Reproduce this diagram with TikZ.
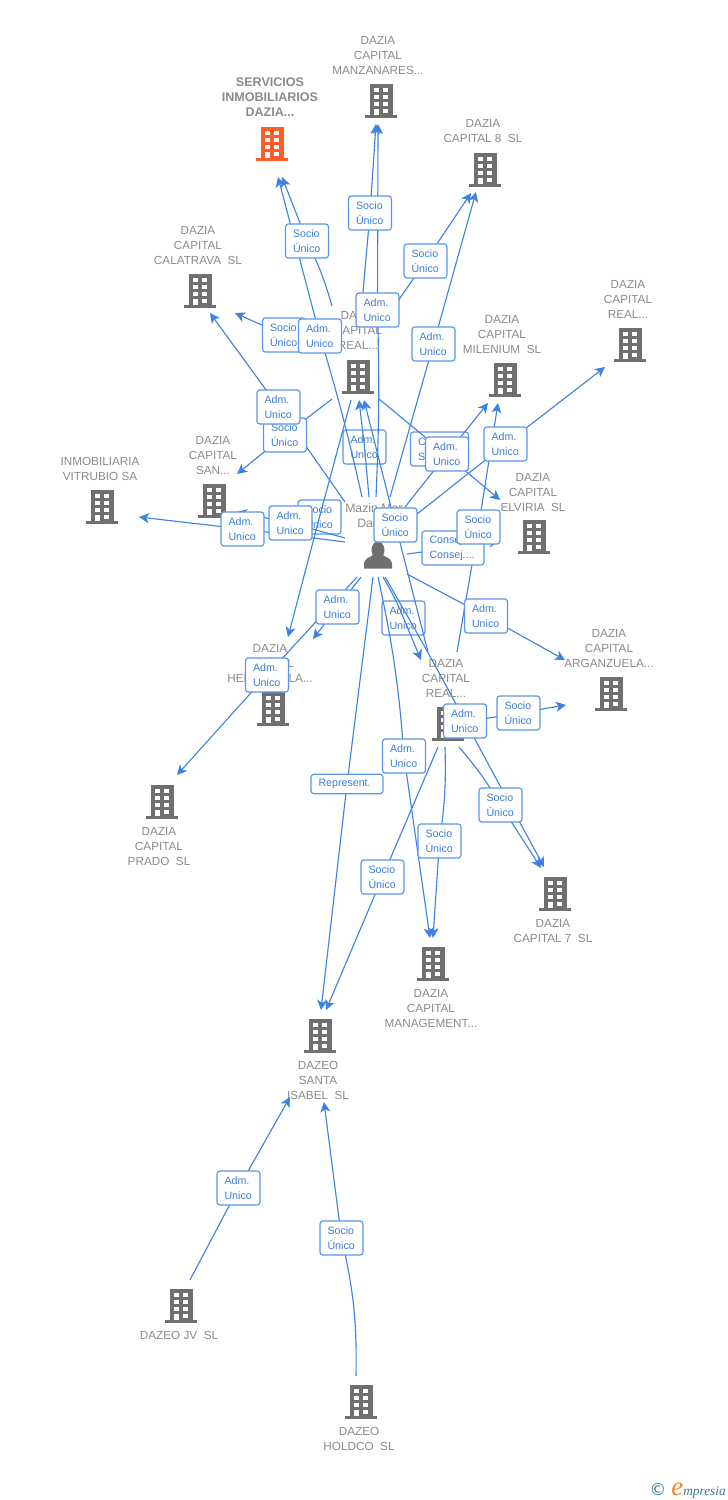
\documentclass[tikz,border=0pt]{standalone}
\usepackage{fontspec}
\setmainfont{Liberation Sans}
\newfontfamily\dejavu{DejaVu Sans}
\newfontfamily\serifit{Liberation Serif}
\usetikzlibrary{arrows.meta}
\definecolor{edgeblue}{HTML}{3F83E2}
\definecolor{boxblue}{HTML}{5A96E8}
\definecolor{txtblue}{HTML}{3C7DD9}
\definecolor{labgray}{HTML}{8A8A8A}
\definecolor{bldgray}{HTML}{6F6F6F}
\definecolor{bldorange}{HTML}{FF5C26}
\definecolor{logoteal}{HTML}{3E7A9A}
\definecolor{logoorange}{HTML}{F58220}
\pgfdeclarelayer{back}
\pgfdeclarelayer{lines}
\pgfsetlayers{back,lines,main}
\tikzset{
  x=0.75pt,y=-0.75pt,
  conn/.style={draw=edgeblue,line width=0.85pt,-{Stealth[length=7.5pt,width=7.5pt,inset=2pt]}},
  edgebox/.style={draw=boxblue,line width=0.9pt,rounded corners=2.2pt,fill=white,text=txtblue,
    align=left,inner xsep=5.6pt,inner ysep=0pt,minimum height=25.6pt,
    font=\fontsize{8}{11.25}\selectfont},
  lab/.style={text=labgray,align=center,inner sep=0pt,anchor=north,font=\fontsize{8.8}{11.25}\selectfont},
  pics/building/.style={code={
    \fill[#1] (-11.5,0) rectangle (11.5,32);
    \fill[#1] (-16,31) rectangle (16,33.5);
    \foreach \yy in {4,11,18}{
      \fill[white] (-7,\yy) rectangle (-2,\yy+4);
      \fill[white] (2,\yy) rectangle (7,\yy+4);}
    \fill[white] (-7,25) rectangle (-2,31);
    \fill[white] (2,25) rectangle (7,29);
  }},
}
\newcommand\lab[4]{\node[lab] (#1) at (#2,#3-4.2) {#4};}
\newcommand\bld[4][bldgray]{\pic (#2) at (#3,#4) {building=#1};}
% name, x, y, width of text (px), text
\newcommand\elab[5]{\node[edgebox,text width=#4*0.75pt] (#1) at (#2,#3) {#5};}
\newcommand\conn[6]{%
  \begin{pgfonlayer}{lines}
  \coordinate (#1s) at (#2);
  \coordinate (#1t) at (#6);
  \draw[conn] (#1s) to[#3] (#4.center) to[#5] (#1t);
  \end{pgfonlayer}}
\begin{document}
\begin{tikzpicture}
\useasboundingbox (0,0) rectangle (728,1500);
\begin{pgfonlayer}{back}
% buildings
\bld[bldorange]{bServ}{272}{127}
\bld{bManz}{381}{84}
\bld{bOcho}{485}{153}
\bld{bCala}{200}{274}
\bld{bRealR}{630}{328}
\bld{bMile}{505}{363}
\bld{bCent}{358}{360}
\bld{bElvi}{534}{520}
\bld{bSan}{214}{484}
\bld{bInmo}{102}{490}
\bld{bHerm}{273}{692}
\bld{bPrad}{162}{785}
\bld{bArga}{611}{677}
\bld{bRealL}{448}{707}
\bld{bSiete}{555}{877}
\bld{bMana}{433}{947}
\bld{bSant}{320}{1019}
\bld{bJv}{181}{1289}
\bld{bHold}{361}{1385}
% person
\fill[bldgray] (378,550) ellipse (6.5 and 8.5);
\fill[bldgray] (364,568.5) -- (364,563) .. controls (365,558) and (370,557.5) .. (373,555) -- (383,555) .. controls (386,557.5) and (391,558) .. (392,563) -- (392,568.5) -- cycle;
% labels
\node[lab,font=\fontsize{9.4}{11.25}\selectfont\bfseries] (lServ) at (270,77.8) {SERVICIOS\\INMOBILIARIOS\\DAZIA...};
\lab{lManz}{378}{40}{DAZIA\\CAPITAL\\MANZANARES...}
\lab{lOcho}{483}{123}{DAZIA\\CAPITAL 8\ \ SL}
\lab{lCala}{198}{230}{DAZIA\\CAPITAL\\CALATRAVA\ \ SL}
\lab{lRealR}{628}{284}{DAZIA\\CAPITAL\\REAL...}
\lab{lMile}{502}{319}{DAZIA\\CAPITAL\\MILENIUM\ \ SL}
\lab{lCent}{358}{315}{DAZIA\\CAPITAL\\REAL...}
\lab{lElvi}{533}{477}{DAZIA\\CAPITAL\\ELVIRIA\ \ SL}
\lab{lSan}{213}{440}{DAZIA\\CAPITAL\\SAN...}
\lab{lInmo}{100}{461}{INMOBILIARIA\\VITRUBIO SA}
\lab{lHerm}{270}{648}{DAZIA\\CAPITAL\\HERMOSILLA...}
\lab{lPrad}{159}{831}{DAZIA\\CAPITAL\\PRADO\ \ SL}
\lab{lArga}{609}{633}{DAZIA\\CAPITAL\\ARGANZUELA...}
\lab{lRealL}{446}{663}{DAZIA\\CAPITAL\\REAL...}
\lab{lSiete}{553}{923}{DAZIA\\CAPITAL 7\ \ SL}
\lab{lMana}{431}{993}{DAZIA\\CAPITAL\\MANAGEMENT...}
\lab{lSant}{318}{1065}{DAZEO\\SANTA\\ISABEL\ \ SL}
\lab{lJv}{179}{1335}{DAZEO JV\ \ SL}
\lab{lHold}{359}{1431}{DAZEO\\HOLDCO\ \ SL}
\node[lab,align=left,anchor=north west,font=\fontsize{9.2}{11.25}\selectfont] (lPers) at (345,503) {Mazin Mor\\\hspace*{9pt}Dar};
% boxes that the lines cross
\elab{a364}{364.5}{447}{28}{Adm.\\Unico}
\elab{a403}{403.5}{618}{28}{Adm.\\Unico}
\elab{s319}{319.5}{517}{28}{Socio\\Único}
\elab{c439}{439.5}{449}{43}{Consej.\\Secret.}
\end{pgfonlayer}
% boxes on top of the lines
\elab{s307}{307}{241}{28}{Socio\\Único}
\elab{s370}{370}{213}{28}{Socio\\Único}
\elab{s425}{425.5}{261}{28}{Socio\\Único}
\elab{a377}{377.5}{310}{28}{Adm.\\Unico}
\elab{a433}{433.5}{344}{28}{Adm.\\Unico}
\elab{s284}{284}{335}{28}{Socio\\Único}
\elab{a320}{320}{336}{28}{Adm.\\Unico}
\elab{s285}{285}{435}{28}{Socio\\Único}
\elab{a278}{278.5}{407}{28}{Adm.\\Unico}
\elab{a447}{447}{454}{28}{Adm.\\Unico}
\elab{a505}{505.5}{444}{28}{Adm.\\Unico}
\elab{c453}{453}{548}{47}{Consej....\\Consej....}
\elab{s478}{478.5}{527}{28}{Socio\\Único}
\elab{s395}{395.5}{525}{28}{Socio\\Único}
\elab{a290}{290.5}{523}{28}{Adm.\\Unico}
\elab{a242}{242.5}{529}{28}{Adm.\\Unico}
\elab{a337}{337.5}{607}{28}{Adm.\\Unico}
\elab{a267}{267}{675}{28}{Adm.\\Unico}
\elab{a486}{486}{616}{28}{Adm.\\Unico}
\elab{a465}{465}{721}{28}{Adm.\\Unico}
\elab{s518}{518.5}{713}{28}{Socio\\Único}
\elab{a404}{404}{756}{28}{Adm.\\Unico}
\node[edgebox,minimum height=14.5pt,text width=57*0.75pt] (r347) at (347,784) {Represent.};
\elab{s500}{500.5}{805}{28}{Socio\\Único}
\elab{s439}{439.5}{841}{28}{Socio\\Único}
\elab{s382}{382.5}{877}{28}{Socio\\Único}
\elab{a238}{238.5}{1188}{28}{Adm.\\Unico}
\elab{s341}{341.5}{1238}{28}{Socio\\Único}
% connectors: id, start, bend, label, bend, tip
\conn{e1}{362,497}{bend right=2}{a320}{}{278,177}
\conn{e2}{332,306}{bend right=5}{s307}{}{282,177}
\conn{e3}{362,303}{}{s370}{}{376,124}
\conn{e4}{376,497}{bend right=2}{a377}{}{378,124}
\conn{e5}{385,320}{}{s425}{}{471,193}
\conn{e6}{390,497}{}{a433}{}{476,192}
\conn{e7}{300,335}{}{s284}{}{235,313}
\conn{e8}{345,502}{}{a278}{}{210,313}
\conn{e9}{332,399}{}{s285}{}{237,474}
\conn{e10}{351,400}{}{s319}{}{288,637}
\conn{e11}{369,497}{}{a364}{}{359,400}
\conn{e12}{428,652}{}{s395}{}{364,400}
\conn{e13}{407,522}{}{a505}{}{605,367}
\conn{e14}{405,507}{}{a447}{}{488,403}
\conn{e15}{457,652}{}{s478}{}{498,403}
\conn{e16}{379,399}{}{c439}{}{500,500}
\conn{e17}{407,554}{}{c453}{}{499,541}
\conn{e18}{383,577}{bend left=4}{a403}{}{421,660}
\conn{e19}{385,577}{bend left=1}{a465}{}{544,867}
\conn{e20}{459,747}{bend left=5}{s500}{}{541,868}
\conn{e21}{407,574}{}{a486}{}{565,660}
\conn{e22}{465,722}{}{s518}{}{566,705}
\conn{e23}{378,577}{bend left=4}{a404}{}{430,938}
\conn{e24}{445,747}{bend left=5}{s439}{}{433,938}
\conn{e25}{373,577}{}{r347}{}{321,1010}
\conn{e26}{438,747}{}{s382}{}{326,1010}
\conn{e27}{361,577}{}{a337}{}{313,639}
\conn{e28}{357,577}{}{a267}{}{177,775}
\conn{e29}{345,542}{}{a242}{}{139,517}
\conn{e30}{345,538}{}{a290}{}{237,512}
\conn{e31}{190,1280}{}{a238}{}{290,1097}
\conn{e32}{356,1376}{bend right=7}{s341}{}{324,1102}
% logo
\node[inner sep=0pt,anchor=center,text=logoteal,font=\dejavu\fontsize{12.5}{12.5}\selectfont] (logoC) at (658,1489) {©};
\node[inner sep=0pt,anchor=base west,text=logoorange,font=\serifit\itshape\fontsize{20}{20}\selectfont] (logoE) at (671,1495) {e};
\node[inner sep=0pt,anchor=base west,text=logoteal,font=\serifit\itshape\fontsize{10}{10}\selectfont] (logoM) at (683,1495) {mpresia};
\end{tikzpicture}
\end{document}
